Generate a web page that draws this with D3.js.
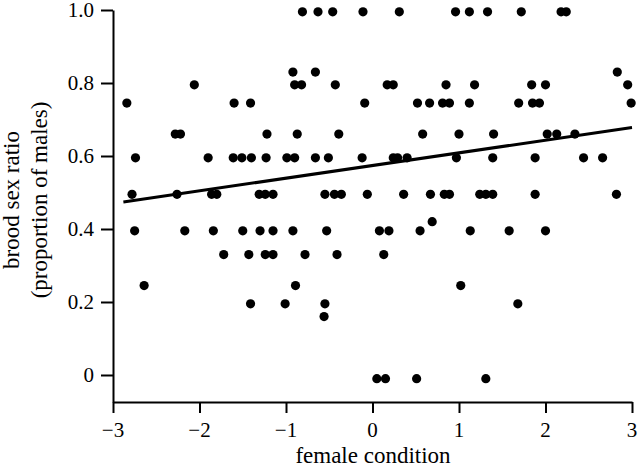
<!DOCTYPE html>
<html>
<head>
<meta charset="utf-8">
<script src="https://cdn.jsdelivr.net/npm/d3@7"></script>
<style>body { margin: 0; }</style>
</head>
<body>
<svg id="chart" width="638" height="467"></svg>
<script>
// female condition (x) and brood sex ratio (y)
var conditionX = [
  -0.81, -0.63, -0.46, -0.11, 0.31, 0.96, 1.12, 1.33, 1.72, 2.18, 2.24,
  -0.92, -0.66, 2.83,
  -2.06, -0.90, -0.82, -0.43, 0.17, 0.24, 0.85, 1.18, 1.84, 2.00, 2.95,
  -2.84, -1.60, -1.41, -0.09, 0.52, 0.66, 0.81, 0.89, 1.12, 1.69, 1.85, 1.93, 2.99,
  -2.28, -2.22, -1.22, -0.87, -0.39, 0.58, 1.00, 1.40, 2.02, 2.13, 2.34,
  -2.74, -1.90, -1.61, -1.51, -1.40, -1.23, -0.99, -0.90, -0.66, -0.51, -0.12, 0.24, 0.29, 0.40, 0.97, 1.39, 1.88, 2.44, 2.66,
  -2.78, -2.26, -1.86, -1.80, -1.31, -1.24, -1.15, -0.55, -0.44, -0.36, -0.06, 0.36, 0.67, 0.83, 0.89, 1.24, 1.31, 1.39, 1.88, 2.82,
  0.69,
  -2.75, -2.17, -1.84, -1.50, -1.30, -1.15, -0.92, -0.53, 0.08, 0.19, 0.55, 1.13, 1.58, 2.00,
  -1.72, -1.43, -1.24, -1.15, -0.78, -0.41, 0.13,
  -2.64, -0.89, 1.02,
  -1.41, -1.01, -0.55, 1.68,
  -0.56,
  0.05, 0.15, 0.51, 1.31
];
var sexRatioY = [
  0.995, 0.995, 0.995, 0.995, 0.995, 0.995, 0.995, 0.995, 0.995, 0.995, 0.995,
  0.83, 0.83, 0.83,
  0.795, 0.795, 0.795, 0.795, 0.795, 0.795, 0.795, 0.795, 0.795, 0.795, 0.795,
  0.745, 0.745, 0.745, 0.745, 0.745, 0.745, 0.745, 0.745, 0.745, 0.745, 0.745, 0.745, 0.745,
  0.66, 0.66, 0.66, 0.66, 0.66, 0.66, 0.66, 0.66, 0.66, 0.66, 0.66,
  0.595, 0.595, 0.595, 0.595, 0.595, 0.595, 0.595, 0.595, 0.595, 0.595, 0.595, 0.595, 0.595, 0.595, 0.595, 0.595, 0.595, 0.595, 0.595,
  0.495, 0.495, 0.495, 0.495, 0.495, 0.495, 0.495, 0.495, 0.495, 0.495, 0.495, 0.495, 0.495, 0.495, 0.495, 0.495, 0.495, 0.495, 0.495, 0.495,
  0.42,
  0.395, 0.395, 0.395, 0.395, 0.395, 0.395, 0.395, 0.395, 0.395, 0.395, 0.395, 0.395, 0.395, 0.395,
  0.33, 0.33, 0.33, 0.33, 0.33, 0.33, 0.33,
  0.245, 0.245, 0.245,
  0.195, 0.195, 0.195, 0.195,
  0.16,
  -0.01, -0.01, -0.01, -0.01
];

// fitted regression line end points
var fitX = [-2.88, 3.0];
var fitY = [0.474, 0.678];

var xTicks = [-3, -2, -1, 0, 1, 2, 3];
var yTicks = [0, 0.2, 0.4, 0.6, 0.8, 1.0];

var xTitle = "female condition";
var yTitle = ["brood sex ratio", "(proportion of males)"];

var svg = d3.select("#chart");

var x = d3.scaleLinear().domain([-3, 3]).range([113, 632]);
var y = d3.scaleLinear().domain([-0.074, 1]).range([402, 10]);

// axes, with labels drawn by hand so the serif face sticks
svg.append("g")
  .attr("transform", "translate(0,402)")
  .call(d3.axisBottom(x)
    .tickValues(xTicks)
    .tickSize(11)
    .tickSizeOuter(0)
    .tickFormat(""));

svg.append("g")
  .attr("transform", "translate(113,0)")
  .call(d3.axisLeft(y)
    .tickValues(yTicks)
    .tickSize(12)
    .tickSizeOuter(0)
    .tickFormat(""));

svg.selectAll(".domain, .tick line")
  .attr("stroke", "#000")
  .attr("stroke-width", 2);

var fmtX = d3.format("d");
var fmtY = function(d) { return d === 0 ? "0" : d3.format(".1f")(d); };

svg.append("g").selectAll("text")
  .data(xTicks)
  .enter().append("text")
  .attr("x", function(d) { return x(d); })
  .attr("y", 437)
  .attr("font-family", function() { return "Liberation Serif"; })
  .attr("font-size", 21)
  .attr("text-anchor", "middle")
  .text(function(d) { return fmtX(d); });

svg.append("g").selectAll("text")
  .data(yTicks)
  .enter().append("text")
  .attr("x", 94)
  .attr("y", function(d) { return y(d) + 7; })
  .attr("font-family", function() { return "Liberation Serif"; })
  .attr("font-size", 21)
  .attr("text-anchor", "end")
  .text(function(d) { return fmtY(d); });

// points
svg.append("g").selectAll("circle")
  .data(d3.range(conditionX.length))
  .enter().append("circle")
  .attr("cx", function(i) { return x(conditionX[i]); })
  .attr("cy", function(i) { return y(sexRatioY[i]); })
  .attr("r", 4.6)
  .attr("fill", "#000");

// regression line
var fit = d3.line()
  .x(function(i) { return x(fitX[i]); })
  .y(function(i) { return y(fitY[i]); });

svg.append("path")
  .datum([0, 1])
  .attr("d", fit)
  .attr("fill", "none")
  .attr("stroke", "#000")
  .attr("stroke-width", 3);

// axis titles
svg.append("text")
  .attr("x", 373)
  .attr("y", 463)
  .attr("text-anchor", "middle")
  .attr("font-family", function() { return "Liberation Serif"; })
  .attr("font-size", 23)
  .text(xTitle);

svg.append("g")
  .attr("transform", "translate(0,200) rotate(-90)")
  .selectAll("text")
  .data(yTitle)
  .enter().append("text")
  .attr("x", 0)
  .attr("y", function(d, i) { return 19 + i * 28; })
  .attr("text-anchor", "middle")
  .attr("font-family", function() { return "Liberation Serif"; })
  .attr("font-size", 23)
  .text(function(d) { return d; });
</script>
</body>
</html>
